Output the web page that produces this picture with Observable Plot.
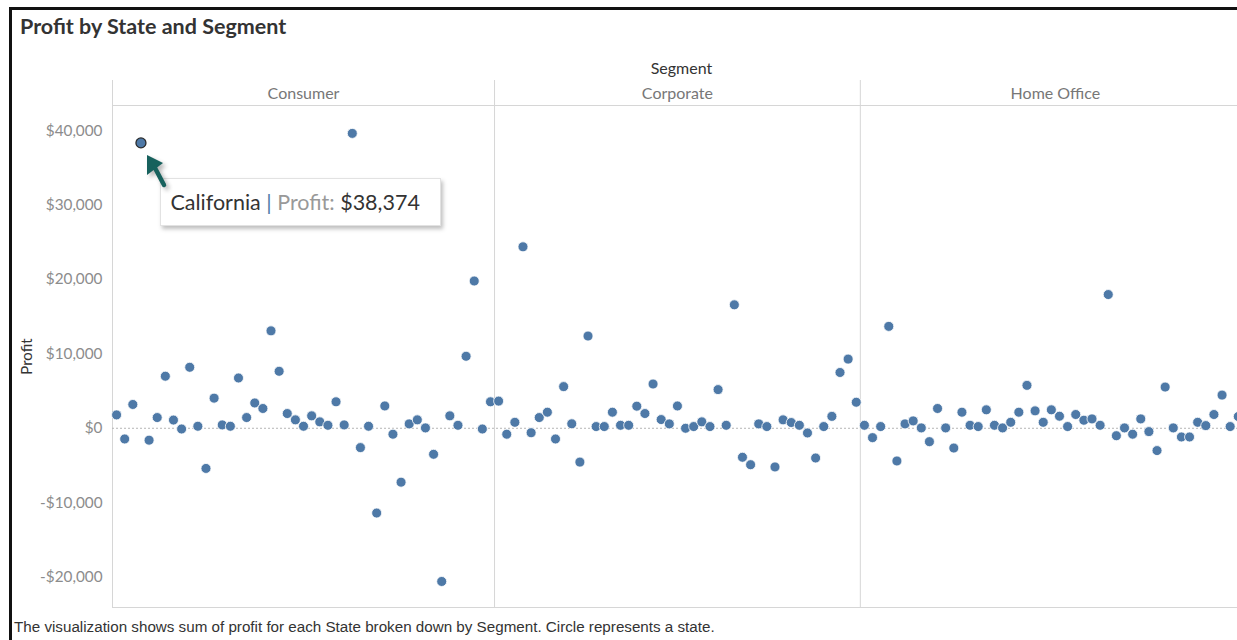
<!DOCTYPE html>
<html>
<head>
<meta charset="utf-8">
<script src="https://cdn.jsdelivr.net/npm/d3@7"></script>
<script src="https://cdn.jsdelivr.net/npm/@observablehq/plot@0.6"></script>
<style>
  html, body { margin: 0; padding: 0; background: #fff; width: 1237px; height: 640px; overflow: hidden; }
  #page { position: relative; width: 1237px; height: 640px; overflow: hidden; }
  #frame { position: absolute; left: 9px; top: 7px; width: 1400px; height: 800px; border-left: 3px solid #111; border-top: 3px solid #111; }
  #title { position: absolute; left: 20px; top: 13px; font: bold 21.5px Lato, sans-serif; color: #333; white-space: nowrap; }
  #chart { position: absolute; left: 0; top: 45px; width: 1262px; }
  #chart svg { max-width: none !important; }
  #caption { position: absolute; left: 14px; top: 618px; font: 15.2px "Liberation Sans", Arial, sans-serif; color: #333; white-space: nowrap; }
  #tip { position: absolute; background: #fff; border: 1px solid #e2e2e2; box-shadow: 2px 3px 4px rgba(0,0,0,0.25); font: 21.5px Lato, sans-serif; white-space: nowrap; box-sizing: border-box; padding: 0 9px; display: flex; align-items: center; }
  #tip .st { color: #333; }
  #tip .bar { color: #4e79a7; }
  #tip .lab { color: #999; }
  #tip .val { color: #333; }
  #cursor { position: absolute; overflow: visible; }
</style>
</head>
<body>
<div id="page">
  <div id="frame"></div>
  <div id="title">Profit by State and Segment</div>
  <div id="chart"></div>
  <div id="caption">The visualization shows sum of profit for each State broken down by Segment. Circle represents a state.</div>
</div>
<script>
// ---- data (profit in USD per state, states in alphabetical order within each segment) ----
const segments = ["Consumer", "Corporate", "Home Office"];
const consumerProfit = [1800, -1440, 3200, 38374, -1600, 1440, 7000, 1100, -100, 8200, 270, -5400, 4050, 450, 270, 6760, 1440, 3400, 2660, 13100, 7660, 1980, 1130, 270, 1670, 860, 400, 3560, 450, 39650, -2600, 270, -11400, 3000, -800, -7250, 590, 1130, 50, -3500, -20600, 1670, 400, 9680, 19800, -100, 3560];
const corporateProfit = [3650, -800, 800, 24400, -600, 1440, 2160, -1440, 5600, 600, -4550, 12400, 230, 230, 2160, 400, 400, 2970, 1980, 5950, 1170, 590, 3000, 0, 230, 860, 230, 5200, 400, 16600, -3900, -4900, 590, 230, -5200, 1130, 770, 400, -630, -4000, 230, 1600, 7500, 9300, 3500];
const homeOfficeProfit = [400, -1260, 230, 13700, -4400, 590, 990, 50, -1800, 2660, 50, -2660, 2160, 400, 230, 2480, 400, 50, 800, 2160, 5770, 2340, 800, 2480, 1620, 230, 1850, 1080, 1260, 400, 17980, -1000, 50, -800, 1260, -450, -3000, 5540, 50, -1170, -1170, 800, 360, 1850, 4460, 230, 1580, null];
const highlightState = { segment: "Consumer", position: 3, name: "California" };
const yTicks = [-20000, -10000, 0, 10000, 20000, 30000, 40000];
const yDomain = [-24100, 43400];

// ---- build table ----
const seriesBySegment = [consumerProfit, corporateProfit, homeOfficeProfit];
const rows = [];
const segInfo = [];
let idx = 0;
segments.forEach((seg, s) => {
  const start = idx;
  seriesBySegment[s].forEach((v, k) => {
    rows.push({ i: idx, segment: seg, k, profit: v,
      state: (seg === highlightState.segment && k === highlightState.position) ? highlightState.name : null });
    idx++;
  });
  segInfo.push({ name: seg, start, end: idx - 1, mid: (start + idx - 1) / 2 });
});
const total = idx;
const boundaries = [-0.5, ...segInfo.slice(1).map(d => d.start - 0.5)];
const fmt = d => (d < 0 ? "-" : "") + "$" + d3.format(",")(Math.abs(d));

const lineColor = "#d6d6d6";
const plot = Plot.plot({
  width: 1262,
  height: 567,
  marginLeft: 112,
  marginRight: 12,
  marginTop: 60,
  marginBottom: 5,
  style: { fontFamily: "Lato, sans-serif", background: "transparent", overflow: "visible", maxWidth: "none" },
  x: { domain: [-0.5, total - 0.5], axis: null },
  y: { domain: yDomain, axis: null },
  marks: [
    Plot.ruleY([yDomain[1], yDomain[0]], { stroke: lineColor, strokeWidth: 1 }),
    Plot.ruleX(boundaries, { stroke: lineColor, strokeWidth: 1, insetTop: -25 }),
    Plot.ruleY([0], { stroke: "#b5b5b5", strokeWidth: 1, strokeDasharray: "2,2" }),
    Plot.axisY({ ticks: yTicks, tickFormat: fmt, tickSize: 0, tickPadding: 10, fill: "#8c8c8c", fontSize: 15.3, label: null }),
    Plot.text(["Profit"], { frameAnchor: "left", textAnchor: "middle", dx: -85, rotate: -90, fill: "#333", fontSize: 15 }),
    Plot.text(["Segment"], { frameAnchor: "top", dy: -43, fill: "#333", fontSize: 16 }),
    Plot.text(segInfo, { x: "mid", text: "name", frameAnchor: "top", dy: -18, fill: "#777", fontSize: 16 }),
    Plot.dot(rows, { x: "i", y: "profit", r: 5, fill: "#4e79a7", stroke: "white", strokeWidth: 0.8 }),
    Plot.dot(rows.filter(d => d.state), { x: "i", y: "profit", r: 5, fill: "#4e79a7", stroke: "#2b2b2b", strokeWidth: 1.3 })
  ]
});
document.getElementById("chart").appendChild(plot);

// ---- tooltip & cursor anchored to the highlighted state through the plot's scales ----
const sel = rows.find(d => d.state);
const px = plot.scale("x").apply(sel.i);
const py = plot.scale("y").apply(sel.profit) + 45;
const tip = document.createElement("div");
tip.id = "tip";
tip.style.left = (px + 20) + "px";
tip.style.top = (py + 36) + "px";
tip.style.width = "281px";
tip.style.height = "48px";
tip.innerHTML = `<span class="st">${sel.state}</span>&nbsp;<span class="bar">|</span>&nbsp;<span class="lab">Profit:</span>&nbsp;<span class="val">${"$" + d3.format(",")(sel.profit)}</span>`;
document.getElementById("page").appendChild(tip);

const svgNS = "http://www.w3.org/2000/svg";
const cur = document.createElementNS(svgNS, "svg");
cur.setAttribute("id", "cursor");
cur.setAttribute("width", "40");
cur.setAttribute("height", "50");
cur.style.left = (px + 6) + "px";
cur.style.top = (py + 12) + "px";
cur.innerHTML = `
  <defs><filter id="sh" x="-50%" y="-50%" width="200%" height="200%"><feGaussianBlur stdDeviation="2"/></filter></defs>
  <g transform="translate(3,3)" opacity="0.35" filter="url(#sh)">
    <path d="M1,1 L1,21 L17,9 Z" fill="#333"/>
    <line x1="9" y1="14" x2="18" y2="31" stroke="#333" stroke-width="4.5" stroke-linecap="round"/>
  </g>
  <path d="M1,1 L1,21 L17,9 Z" fill="#17615d"/>
  <line x1="9" y1="14" x2="18" y2="31" stroke="#17615d" stroke-width="4.5" stroke-linecap="round"/>`;
document.getElementById("page").appendChild(cur);
</script>
</body>
</html>
